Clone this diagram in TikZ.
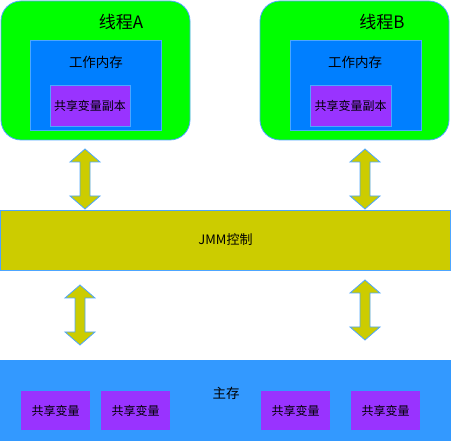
\documentclass[tikz,border=0pt]{standalone}
\usepackage{fontspec}
\setmainfont{Noto Sans CJK SC}
\usetikzlibrary{calc}
\definecolor{thrgreen}{HTML}{00FF00}
\definecolor{workblue}{HTML}{007FFF}
\definecolor{edgeblue}{HTML}{4DA6FF}
\definecolor{varpurple}{HTML}{9933FF}
\definecolor{jmmyellow}{HTML}{CCCC00}
\definecolor{mainblue}{HTML}{3399FF}
\newcommand{\dualarrow}[2]{%
    \path[jmmarrow] (#1) -- ++(15,13) -- ++(-10,0) -- ($(#2)+(5,-13)$) -- ++(10,0) -- (#2)
        -- ++(-15,-13) -- ++(10,0) -- ($(#1)+(-5,13)$) -- ++(-10,0) -- cycle;}

\begin{document}
\begin{tikzpicture}[x=1pt, y=-1pt,
    box/.style={inner sep=0pt, outer sep=0pt, anchor=north west, draw=edgeblue, line width=0.8pt},
    thread/.style={box, fill=thrgreen, rounded corners=20pt},
    workmem/.style={box, fill=workblue},
    varbox/.style={box, fill=varpurple},
    jmmarrow/.style={fill=jmmyellow, draw=edgeblue, line width=0.8pt},
    txt/.style={inner sep=0pt, font=\fontsize{12}{14}\selectfont}]
    \useasboundingbox (0,0) rectangle (451,441);
    % threads
    \node[thread, minimum width=189pt, minimum height=139pt] (ta) at (1,1) {};
    \node[thread, minimum width=189pt, minimum height=139pt] (tb) at (260,1) {};
    \node[txt, font=\fontsize{17}{20}\selectfont] (tal) at (121,22) {线程A};
    \node[txt, font=\fontsize{17}{20}\selectfont] (tbl) at (382,22) {线程B};
    \node[workmem, minimum width=131pt, minimum height=90pt] (wa) at (30,40) {};
    \node[workmem, minimum width=131pt, minimum height=90pt] (wb) at (290,40) {};
    \node[txt, font=\fontsize{13.5}{16}\selectfont] (wal) at (96,62) {工作内存};
    \node[txt, font=\fontsize{13.5}{16}\selectfont] (wbl) at (355,62) {工作内存};
    \node[varbox, minimum width=80pt, minimum height=41pt] (ca) at (50,85) {};
    \node[varbox, minimum width=81pt, minimum height=41pt] (cb) at (310,85) {};
    \node[txt] at (ca.center) {共享变量副本};
    \node[txt] at (cb.center) {共享变量副本};
    % jmm
    \node[box, fill=jmmyellow, minimum width=450pt, minimum height=60pt] (jmm) at (0.5,210) {};
    \node[txt, font=\fontsize{13}{15}\selectfont] at (jmm.center) {JMM控制};
    % main memory
    \node[box, draw=none, fill=mainblue, minimum width=451pt, minimum height=81pt] (mem) at (0,360) {};
    \node[txt, font=\fontsize{13.5}{16}\selectfont] (meml) at (226,393) {主存};
    \foreach \x/\n in {21/v1, 101/v2, 261/v3, 351/v4} {
        \node[varbox, draw=none, minimum width=69pt, minimum height=39pt] (\n) at (\x,391) {};
        \node[txt] at (\n.center) {共享变量};
    }
    % arrows
    \coordinate (a1t) at (85,149); \coordinate (a1b) at (85,209);
    \coordinate (a2t) at (365,149); \coordinate (a2b) at (365,209);
    \coordinate (a3t) at (80,285); \coordinate (a3b) at (80,345);
    \coordinate (a4t) at (365,280); \coordinate (a4b) at (365,340);
    \dualarrow{a1t}{a1b}
    \dualarrow{a2t}{a2b}
    \dualarrow{a3t}{a3b}
    \dualarrow{a4t}{a4b}
\end{tikzpicture}
\end{document}
